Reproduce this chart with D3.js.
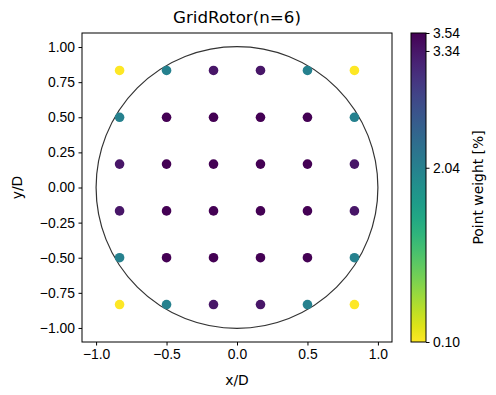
<!DOCTYPE html>
<head>
<meta charset="utf-8">
<style>
  body { margin:0; background:#fff; }
  svg { font-family: "DejaVu Sans", sans-serif; }
  .tick text { font-size: 13.9px; fill: #000; }
  .tick line { stroke: #000; }
  .domain { stroke: none; }
</style>
<script src="https://d3js.org/d3.v7.min.js"></script>
</head>
<body>
<script>

var width = 496, height = 395;

// grid coordinates (x/D, y/D) and the weights per row, top row first
var gridPos = [-5/6, -0.5, -1/6, 1/6, 0.5, 5/6];
var weightRows = [
  [0.10, 2.04, 3.34, 3.34, 2.04, 0.10],
  [2.04, 3.54, 3.54, 3.54, 3.54, 2.04],
  [3.34, 3.54, 3.54, 3.54, 3.54, 3.34],
  [3.34, 3.54, 3.54, 3.54, 3.54, 3.34],
  [2.04, 3.54, 3.54, 3.54, 3.54, 2.04],
  [0.10, 2.04, 3.34, 3.34, 2.04, 0.10]
];
var xTicks = [-1.0, -0.5, 0.0, 0.5, 1.0];
var yTicks = [1.0, 0.75, 0.5, 0.25, 0.0, -0.25, -0.5, -0.75, -1.0];
var cbTicks = [0.10, 2.04, 3.34, 3.54];
var wMin = 0.10, wMax = 3.54;

var ax = {left: 82, top: 33, w: 310, h: 309};

var svg = d3.select("body").append("svg")
    .attr("width", width).attr("height", height);

var x = d3.scaleLinear().domain([-1.1, 1.1]).range([ax.left, ax.left + ax.w]);
var y = d3.scaleLinear().domain([-1.1, 1.1]).range([ax.top + ax.h, ax.top]);
var color = function(v) { return d3.interpolateViridis(1 - (v - wMin) / (wMax - wMin)); };

var points = [];
weightRows.forEach(function(row, i) {
  row.forEach(function(w, j) {
    points.push({x: gridPos[j], y: gridPos[5 - i], w: w});
  });
});

// rotor circle
svg.append("circle")
    .attr("cx", x(0)).attr("cy", y(0))
    .attr("r", x(1) - x(0))
    .attr("fill", "none").attr("stroke", "#333").attr("stroke-width", 1.2);

svg.append("g").selectAll("circle")
    .data(points)
  .enter().append("circle")
    .attr("cx", function(d) { return x(d.x); })
    .attr("cy", function(d) { return y(d.y); })
    .attr("r", 4.8)
    .attr("fill", function(d) { return color(d.w); });

svg.append("rect")
    .attr("x", ax.left).attr("y", ax.top).attr("width", ax.w).attr("height", ax.h)
    .attr("fill", "none").attr("stroke", "#000").attr("stroke-width", 1);

svg.append("g")
    .attr("transform", "translate(0," + (ax.top + ax.h) + ")")
    .call(d3.axisBottom(x).tickValues(xTicks).tickSize(3.5).tickPadding(3.5)
      .tickFormat(function(d) { return d3.format(".1f")(d).replace("-", "\u2212"); }));

svg.append("g")
    .attr("transform", "translate(" + ax.left + ",0)")
    .call(d3.axisLeft(y).tickValues(yTicks).tickSize(3.5).tickPadding(3.5)
      .tickFormat(function(d) { return d3.format(".2f")(d).replace("-", "\u2212"); }));

svg.append("text")
    .attr("x", ax.left + ax.w / 2).attr("y", 23)
    .attr("text-anchor", "middle").attr("font-size", 16.7)
    .text("GridRotor(n=6)");

svg.append("text")
    .attr("x", ax.left + ax.w / 2).attr("y", 385)
    .attr("text-anchor", "middle").attr("font-size", 13.9)
    .text("x/D");

svg.append("text")
    .attr("transform", "translate(22," + (ax.top + ax.h / 2) + ") rotate(-90)")
    .attr("text-anchor", "middle").attr("font-size", 13.9)
    .text("y/D");

// colorbar
var cb = {left: 411, top: 33, w: 15, h: 309};
var cy = d3.scaleLinear().domain([wMin, wMax]).range([cb.top + cb.h, cb.top]);

var defs = svg.append("defs");
var grad = defs.append("linearGradient").attr("id", "cbgrad")
    .attr("x1", 0).attr("y1", 1).attr("x2", 0).attr("y2", 0);
d3.range(0, 1.0001, 0.05).forEach(function(t) {
  grad.append("stop").attr("offset", t).attr("stop-color", d3.interpolateViridis(1 - t));
});

svg.append("rect")
    .attr("x", cb.left).attr("y", cb.top).attr("width", cb.w).attr("height", cb.h)
    .attr("fill", "url(#cbgrad)").attr("stroke", "#000").attr("stroke-width", 1);

svg.append("g")
    .attr("transform", "translate(" + (cb.left + cb.w) + ",0)")
    .call(d3.axisRight(cy).tickValues(cbTicks).tickSize(3.5).tickPadding(3.5)
      .tickFormat(d3.format(".2f")));

svg.append("text")
    .attr("transform", "translate(483," + (cb.top + cb.h / 2) + ") rotate(-90)")
    .attr("text-anchor", "middle").attr("font-size", 13.9)
    .text("Point weight [%]");

</script>
</body>
